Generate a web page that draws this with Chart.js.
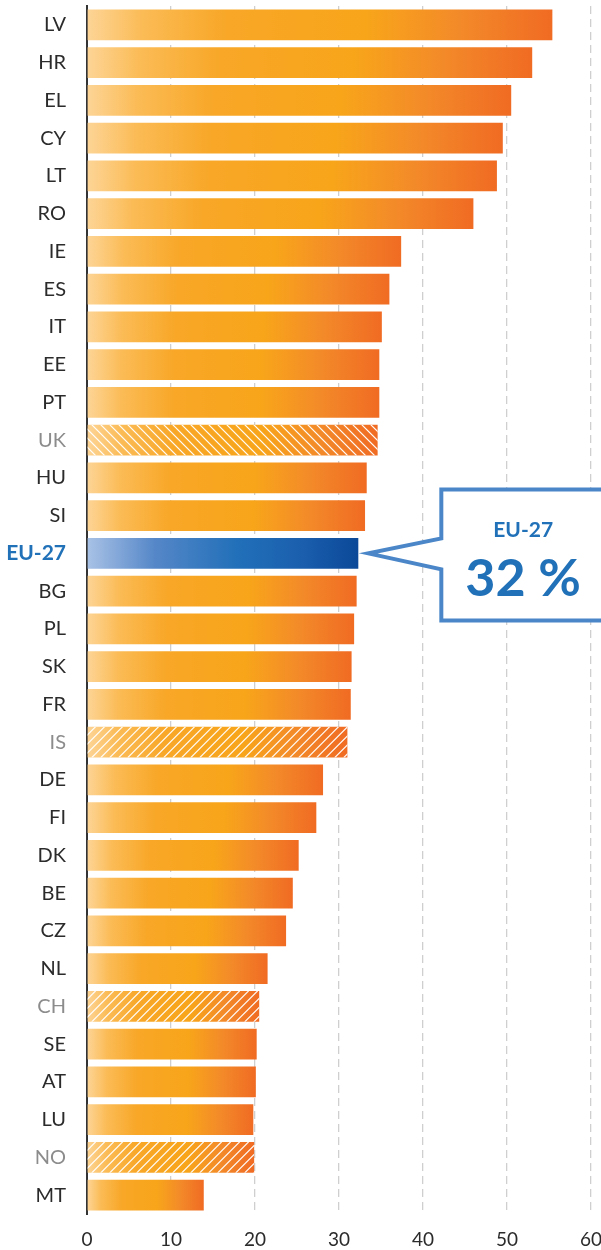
<!DOCTYPE html>
<html><head><meta charset="utf-8">
<script src="https://cdn.jsdelivr.net/npm/chart.js@4/dist/chart.umd.min.js"></script>
<style>html,body{margin:0;padding:0;background:#fff}#wrap{width:601px;height:1250px}</style>
</head><body><div id="wrap"><canvas id="c" width="601" height="1250"></canvas></div>
<script>
const categories = ['LV','HR','EL','CY','LT','RO','IE','ES','IT','EE','PT','UK','HU','SI','EU-27','BG','PL','SK','FR','IS','DE','FI','DK','BE','CZ','NL','CH','SE','AT','LU','NO','MT'];
const values = [55.4,53.0,50.5,49.5,48.8,46.0,37.4,36.0,35.1,34.8,34.8,34.6,33.3,33.1,32.3,32.1,31.8,31.5,31.4,31.0,28.1,27.3,25.2,24.5,23.7,21.5,20.5,20.2,20.1,19.8,19.9,13.9];
const hatchedBack = ['UK'];            // "\" stripes
const hatchedFwd = ['IS','CH','NO'];   // "/" stripes
const greyLabels = ['UK','IS','CH','NO'];
const highlight = 'EU-27';
const calloutTitle = 'EU-27';
const calloutValue = '32 %';
const xTicks = [0,10,20,30,40,50,60];

const FONT = 'Lato, "Open Sans", sans-serif';

function barGradient(ctx){
  const chart = ctx.chart, xs = chart.scales && chart.scales.x;
  const label = categories[ctx.dataIndex];
  const isHi = label === highlight;
  if(!xs || ctx.raw == null) return isHi ? '#2a72bd' : '#f7a51c';
  const x0 = xs.getPixelForValue(0), x1 = xs.getPixelForValue(ctx.raw);
  if(!isFinite(x0) || !isFinite(x1) || x1 <= x0) return isHi ? '#2a72bd' : '#f7a51c';
  const g = chart.ctx.createLinearGradient(x0,0,x1,0);
  if(isHi){
    g.addColorStop(0,'#a9c2e6');
    g.addColorStop(0.25,'#5587c8');
    g.addColorStop(0.55,'#2270b9');
    g.addColorStop(0.8,'#1a5ead');
    g.addColorStop(1,'#0b4898');
  } else {
    g.addColorStop(0,'#fdd597');
    g.addColorStop(0.12,'#fbbb55');
    g.addColorStop(0.3,'#f8a727');
    g.addColorStop(0.6,'#f8a51a');
    g.addColorStop(0.8,'#f38a29');
    g.addColorStop(1,'#f06b23');
  }
  return g;
}

const hatchPlugin = {
  id:'hatch',
  afterDatasetsDraw(chart){
    const meta = chart.getDatasetMeta(0);
    const ctx = chart.ctx;
    meta.data.forEach((bar,i)=>{
      const lab = categories[i];
      const back = hatchedBack.includes(lab), fwd = hatchedFwd.includes(lab);
      if(!back && !fwd) return;
      const left = Math.min(bar.base, bar.x), right = Math.max(bar.base, bar.x);
      const top = bar.y - bar.height/2, bottom = bar.y + bar.height/2;
      const h = bottom - top;
      ctx.save();
      ctx.beginPath(); ctx.rect(left, top, right-left, h); ctx.clip();
      ctx.strokeStyle = 'rgba(255,255,255,0.95)';
      ctx.lineWidth = 1.3;
      ctx.beginPath();
      for(let x = left - h - 10; x < right + h + 10; x += 9){
        if(fwd){ ctx.moveTo(x, bottom); ctx.lineTo(x + h, top); }
        else { ctx.moveTo(x, top); ctx.lineTo(x + h, bottom); }
      }
      ctx.stroke();
      ctx.restore();
    });
  }
};

const calloutPlugin = {
  id:'callout',
  afterDraw(chart){
    const idx = categories.indexOf(highlight);
    const bar = chart.getDatasetMeta(0).data[idx];
    if(!bar) return;
    const ctx = chart.ctx;
    const tipX = bar.x + 10, tipY = bar.y;
    const boxL = tipX + 73, boxT = tipY - 64, boxB = tipY + 67, boxR = chart.width + 10;
    ctx.save();
    ctx.beginPath();
    ctx.moveTo(boxL, boxT);
    ctx.lineTo(boxR, boxT);
    ctx.lineTo(boxR, boxB);
    ctx.lineTo(boxL, boxB);
    ctx.lineTo(boxL, tipY + 16);
    ctx.lineTo(tipX, tipY);
    ctx.lineTo(boxL, tipY - 15);
    ctx.closePath();
    ctx.fillStyle = '#fff';
    ctx.fill();
    ctx.strokeStyle = '#4a86c8';
    ctx.lineWidth = 4;
    ctx.lineJoin = 'miter';
    ctx.stroke();
    const cx = (boxL + chart.width) / 2 + 2;
    ctx.fillStyle = '#2171b8';
    ctx.textAlign = 'center';
    ctx.textBaseline = 'middle';
    ctx.font = 'bold 21px ' + FONT;
    ctx.fillText(calloutTitle, cx, tipY - 23);
    ctx.font = 'bold 52px ' + FONT;
    ctx.fillText(calloutValue, cx, tipY + 26);
    ctx.restore();
  }
};

new Chart(document.getElementById('c'), {
  type:'bar',
  data:{
    labels: categories,
    datasets:[{
      data: values,
      backgroundColor: barGradient,
      borderWidth: 0,
      barPercentage: 0.82,
      categoryPercentage: 1.0
    }]
  },
  options:{
    indexAxis:'y',
    responsive:false,
    animation:false,
    events:[],
    layout:{padding:{top:6,right:10,bottom:0,left:0}},
    plugins:{legend:{display:false},tooltip:{enabled:false}},
    scales:{
      x:{
        min:0,max:60,
        afterBuildTicks(s){ s.ticks = xTicks.map(v=>({value:v})); },
        afterFit(s){ s.height = 36; s.paddingLeft = 0; s.paddingRight = 0; },
        grid:{
          drawTicks:false,
          color:(c)=> (c.tick && c.tick.value === 0) ? 'rgba(0,0,0,0)' : '#cfcfcf',
          lineWidth:1.3
        },
        border:{display:false, dash:[8,5]},
        ticks:{color:'#2b2b2b', font:{family:FONT, size:19}, padding:14, maxRotation:0}
      },
      y:{
        afterFit(s){ s.width = 87; s.paddingTop = 0; s.paddingBottom = 0; },
        grid:{display:false},
        border:{display:true, color:'#333', width:2},
        ticks:{
          padding:13,
          autoSkip:false,
          color:(c)=>{ const l = categories[c.index]; return l===highlight ? '#2171b8' : (greyLabels.includes(l) ? '#8c8c8c' : '#2b2b2b'); },
          font:(c)=>{ const l = categories[c.index]; return l===highlight ? {family:FONT, size:21, weight:'bold'} : {family:FONT, size:20}; }
        }
      }
    }
  },
  plugins:[hatchPlugin, calloutPlugin]
});
</script>
</body></html>
